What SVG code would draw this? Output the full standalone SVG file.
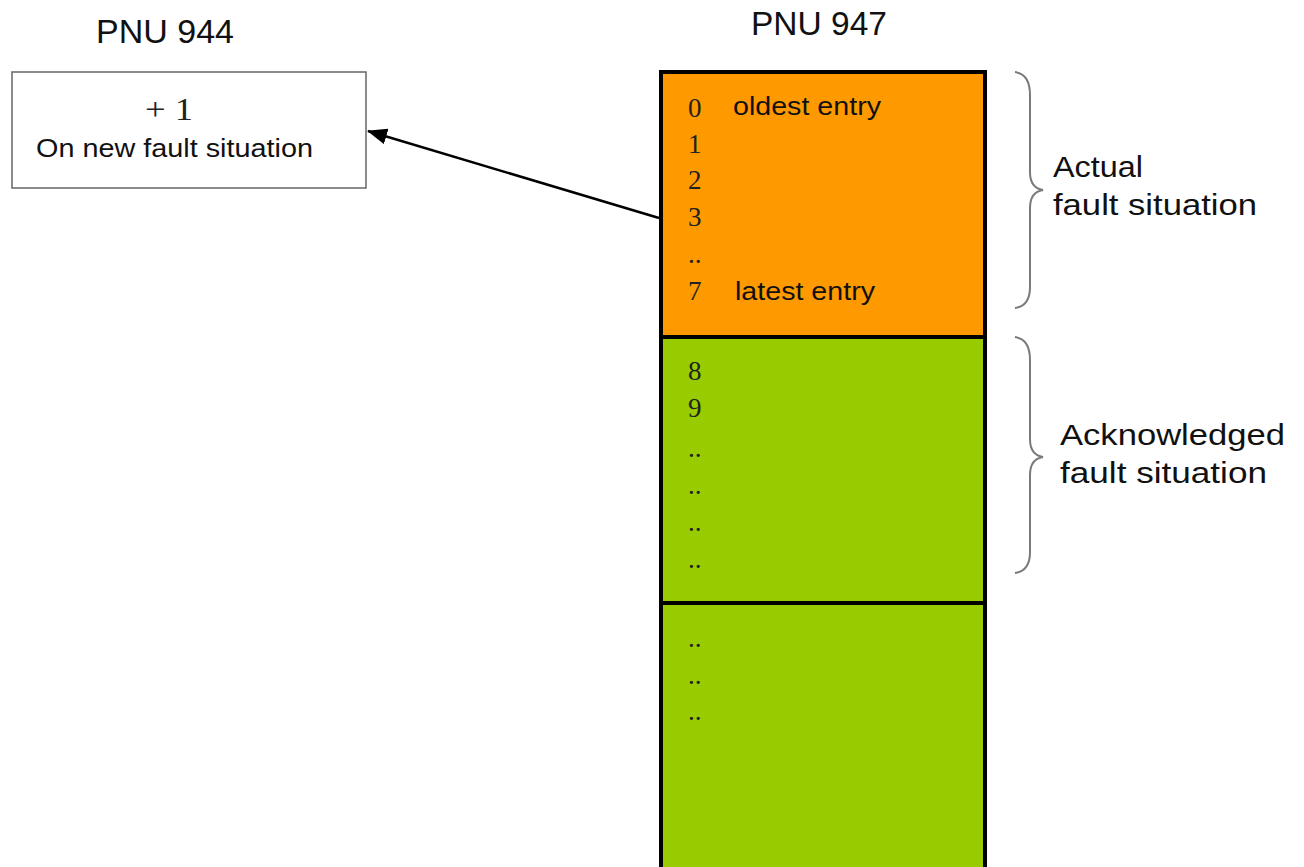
<svg xmlns="http://www.w3.org/2000/svg" width="1304" height="867" viewBox="0 0 1304 867">
<defs>
<style>
.sans{font-family:"Liberation Sans",Arial,sans-serif;fill:#111}
.serif{font-family:"Liberation Serif","Times New Roman",serif;fill:#222}
.brace{fill:none;stroke:#7a7a7a;stroke-width:2}
.cell{stroke:#000;stroke-width:4}
</style>
<marker id="arr" markerWidth="20" markerHeight="16" refX="19" refY="8" orient="auto" markerUnits="userSpaceOnUse" viewBox="0 0 20 16">
<path d="M0,0 L20,8 L0,16 Z" fill="#000"/>
</marker>
</defs>
<rect width="1304" height="867" fill="#fff"/>

<text class="sans" x="96" y="43" font-size="34" textLength="138" lengthAdjust="spacingAndGlyphs">PNU 944</text>
<text class="sans" x="751" y="35" font-size="34" textLength="136" lengthAdjust="spacingAndGlyphs">PNU 947</text>

<g id="counter">
<rect x="12" y="72" width="354" height="116" fill="#fff" stroke="#666" stroke-width="1.5"/>
<text class="serif" x="145" y="120" font-size="31" textLength="48" lengthAdjust="spacingAndGlyphs">+ 1</text>
<text class="sans" x="36" y="157" font-size="25" textLength="277" lengthAdjust="spacingAndGlyphs">On new fault situation</text>
</g>

<g id="actual">
<rect class="cell" x="661" y="72" width="324" height="265" fill="#FF9900"/>
<g class="serif" font-size="27">
<text x="688" y="117">0</text>
<text x="688" y="153">1</text>
<text x="688" y="189">2</text>
<text x="688" y="226">3</text>
<text x="688" y="263">..</text>
<text x="688" y="300">7</text>
</g>
<text class="sans" x="733" y="115" font-size="25" textLength="148" lengthAdjust="spacingAndGlyphs">oldest entry</text>
<text class="sans" x="735" y="300" font-size="25" textLength="140" lengthAdjust="spacingAndGlyphs">latest entry</text>
</g>

<g id="acknowledged">
<rect class="cell" x="661" y="337" width="324" height="266" fill="#99CC00"/>
<g class="serif" font-size="27">
<text x="688" y="380">8</text>
<text x="688" y="417">9</text>
<text x="688" y="457">..</text>
<text x="688" y="494">..</text>
<text x="688" y="531">..</text>
<text x="688" y="568">..</text>
</g>
</g>

<g id="rest">
<rect class="cell" x="661" y="603" width="324" height="280" fill="#99CC00"/>
<g class="serif" font-size="27">
<text x="688" y="647">..</text>
<text x="688" y="684">..</text>
<text x="688" y="720">..</text>
</g>
</g>

<g id="brace-actual">
<path class="brace" d="M1015,72 Q1030,74 1030,95 L1030,172 Q1030,188 1043,190 Q1030,192 1030,208 L1030,287 Q1030,306 1015,308"/>
<text class="sans" x="1053" y="177" font-size="30" textLength="90" lengthAdjust="spacingAndGlyphs">Actual</text>
<text class="sans" x="1053" y="215" font-size="30" textLength="204" lengthAdjust="spacingAndGlyphs">fault situation</text>
</g>

<g id="brace-ack">
<path class="brace" d="M1015,337 Q1030,339 1030,360 L1030,439 Q1030,455 1043,457 Q1030,459 1030,475 L1030,552 Q1030,571 1015,573"/>
<text class="sans" x="1060" y="445" font-size="30" textLength="225" lengthAdjust="spacingAndGlyphs">Acknowledged</text>
<text class="sans" x="1060" y="483" font-size="30" textLength="207" lengthAdjust="spacingAndGlyphs">fault situation</text>
</g>

<g id="connectors">
<line x1="659" y1="218" x2="368" y2="131" stroke="#000" stroke-width="2.5" marker-end="url(#arr)"/>
</g>
</svg>
